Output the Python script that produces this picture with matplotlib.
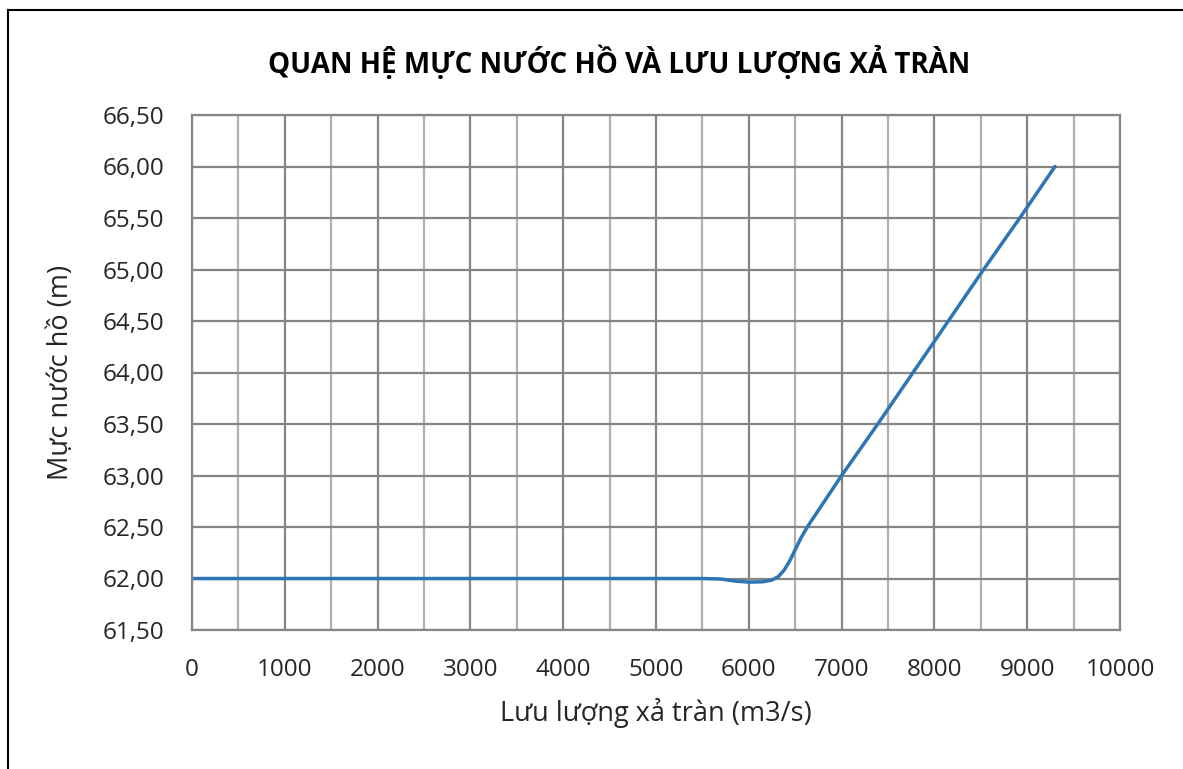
import matplotlib.pyplot as plt
from matplotlib.lines import Line2D
from matplotlib.ticker import FuncFormatter, MultipleLocator

plt.rcParams['font.family'] = ['Open Sans', 'DejaVu Sans']

# spillway discharge (m3/s) vs reservoir level (m)
discharge = [0, 1000, 2000, 3000, 4000, 5000, 5500, 5700, 5850, 6000, 6150, 6250,
             6320, 6380, 6440, 6500, 6560, 6630, 7000, 7390, 7770, 8150, 8530,
             8920, 9300]
level = [62.0, 62.0, 62.0, 62.0, 62.0, 62.0, 62.0, 61.995, 61.975, 61.965, 61.968,
         61.985, 62.02, 62.08, 62.17, 62.28, 62.39, 62.5, 63.0, 63.5, 64.0, 64.5,
         65.0, 65.5, 66.0]

W, H = 1183, 769
fig = plt.figure(figsize=(W / 100, H / 100), dpi=100)
ax = fig.add_axes([192 / W, 1 - 630 / H, (1120 - 192) / W, (630 - 115) / H])

ax.plot(discharge, level, color='#2e75b6', lw=2.5, solid_capstyle='round',
        solid_joinstyle='round')

ax.set_xlim(0, 10000)
ax.set_ylim(61.5, 66.5)
ax.xaxis.set_major_locator(MultipleLocator(1000))
ax.xaxis.set_minor_locator(MultipleLocator(500))
ax.yaxis.set_major_locator(MultipleLocator(0.5))
ax.yaxis.set_major_formatter(FuncFormatter(lambda v, _: f"{v:.2f}".replace('.', ',')))

ax.grid(which='major', axis='both', color='#858585', lw=1.6)
ax.grid(which='minor', axis='x', color='#b0b0b0', lw=1.6)
ax.set_axisbelow(True)
for s in ax.spines.values():
    s.set_color('#858585')
    s.set_linewidth(1.6)
ax.tick_params(which='both', length=0, labelsize=17.5, colors='#262626')
ax.tick_params(axis='x', pad=20)
ax.tick_params(axis='y', pad=20)

ax.set_xlabel('Lưu lượng xả tràn (m3/s)', fontsize=19.5, color='#262626', labelpad=12)
ax.set_ylabel('Mực nước hồ (m)', fontsize=19.5, color='#262626', labelpad=20)

fig.text(619 / W, 1 - 63 / H, 'QUAN HỆ MỰC NƯỚC HỒ VÀ LƯU LƯỢNG XẢ TRÀN',
         ha='center', va='center', fontsize=20, fontweight='bold', color='black')

# outer chart border (only left and top edges are visible in the crop)
fig.add_artist(Line2D([8 / W, 8 / W], [0, 1 - 10 / H], color='black', lw=1.5,
                      transform=fig.transFigure))
fig.add_artist(Line2D([8 / W, 1], [1 - 10 / H, 1 - 10 / H], color='black', lw=1.5,
                      transform=fig.transFigure))

fig.savefig('out.png', dpi=100)
